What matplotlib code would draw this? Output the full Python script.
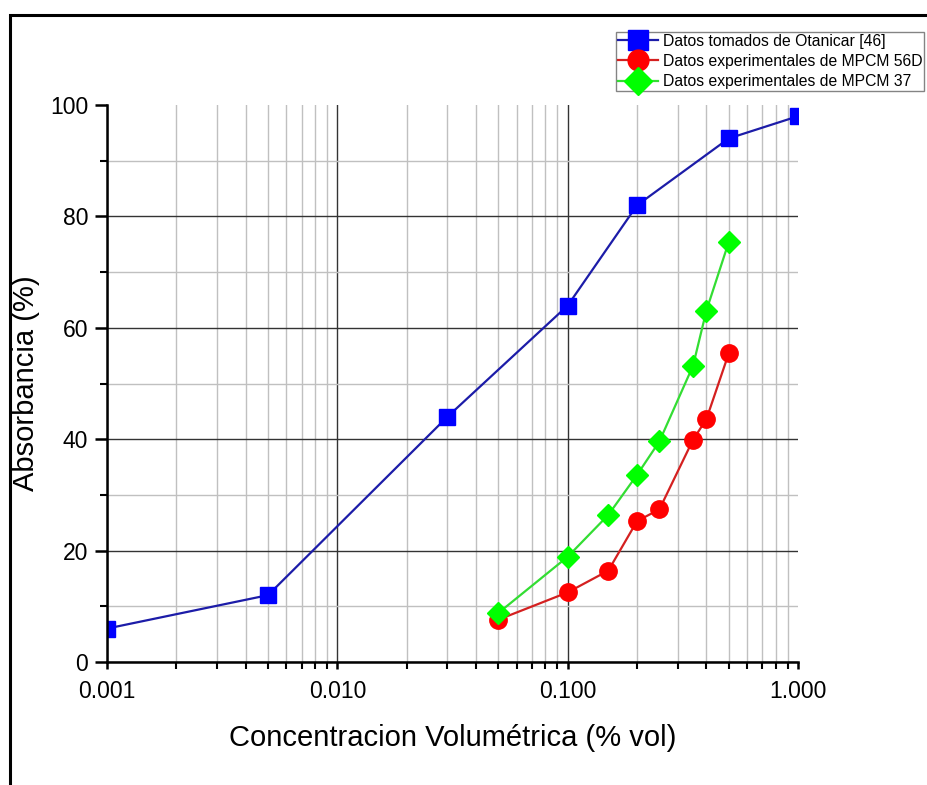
import matplotlib.pyplot as plt
from matplotlib.patches import Rectangle
from matplotlib.ticker import FixedLocator, FuncFormatter, LogLocator, NullFormatter

plt.rcParams['font.family'] = ['Liberation Sans', 'DejaVu Sans']

# Datos
otanicar_conc = [0.001, 0.005, 0.03, 0.1, 0.2, 0.5, 1.0]
otanicar_abs = [6, 12, 44, 64, 82, 94, 98]

mpcm_conc = [0.05, 0.1, 0.15, 0.2, 0.25, 0.35, 0.4, 0.5]
mpcm56d_abs = [7.6, 12.5, 16.4, 25.3, 27.4, 39.9, 43.6, 55.4]
mpcm37_abs = [8.8, 18.9, 26.4, 33.6, 39.6, 53.2, 63.1, 75.4]

labels = ['Datos tomados de Otanicar [46]',
          'Datos experimentales de MPCM 56D',
          'Datos experimentales de MPCM 37']

fig = plt.figure(figsize=(9.28, 7.85), dpi=100)
ax = fig.add_axes([0.1153, 0.1567, 0.7447, 0.7095])

# marco exterior
fig.patches.append(Rectangle((10 / 928, -0.1), 1.2, 1.1 - 15 / 785,
                             transform=fig.transFigure, fill=False,
                             edgecolor='black', linewidth=2.2, zorder=0))

ax.plot(otanicar_conc, otanicar_abs, color='#1c1ca8', lw=1.6, marker='s',
        ms=11.5, mfc='#0000ff', mec='#0000ff', label=labels[0])
ax.plot(mpcm_conc, mpcm56d_abs, color='#d42020', lw=1.6, marker='o',
        ms=12.5, mfc='#ff0000', mec='#ff0000', label=labels[1])
ax.plot(mpcm_conc, mpcm37_abs, color='#33dd33', lw=1.6, marker='D',
        ms=11.5, mfc='#00ff00', mec='#00ff00', label=labels[2])

ax.set_xscale('log')
ax.set_xlim(0.001, 1.0)
ax.set_ylim(0, 100)

ax.xaxis.set_major_locator(FixedLocator([0.001, 0.01, 0.1, 1.0]))
ax.xaxis.set_major_formatter(FuncFormatter(lambda v, p: f'{v:.3f}'))
ax.xaxis.set_minor_locator(LogLocator(base=10, subs=range(2, 10)))
ax.xaxis.set_minor_formatter(NullFormatter())
ax.yaxis.set_major_locator(FixedLocator([0, 20, 40, 60, 80, 100]))
ax.yaxis.set_minor_locator(FixedLocator([10, 30, 50, 70, 90]))

ax.grid(which='major', color='#333333', lw=1.0)
ax.grid(which='minor', color='#c0c0c0', lw=1.0)
ax.set_axisbelow(True)

# sin linea de rejilla en los bordes (100 % y 1.000)
ax.yaxis.get_gridlines()[-1].set_visible(False)
ax.xaxis.get_gridlines()[-1].set_visible(False)

for side in ['top', 'right']:
    ax.spines[side].set_visible(False)
for side in ['left', 'bottom']:
    ax.spines[side].set_linewidth(1.8)

ax.tick_params(which='major', direction='out', width=1.8,
               labelsize=16.5, colors='black')
ax.tick_params(which='minor', direction='out', width=1.5)
ax.tick_params(axis='x', which='both', length=5, pad=8)
ax.tick_params(axis='y', which='major', length=8.6, pad=5)
ax.tick_params(axis='y', which='minor', length=5)

ax.set_xlabel('Concentracion Volumétrica (% vol)', fontsize=21, labelpad=15)
ax.set_ylabel('Absorbancia (%)', fontsize=21, labelpad=7)

leg = ax.legend(loc='upper left', bbox_to_anchor=(616 / 928, 1 - 32 / 785),
                bbox_transform=fig.transFigure, fontsize=11.3, frameon=True,
                fancybox=False, edgecolor='#666666', handlelength=2.6,
                handletextpad=0.3, borderpad=0.1, labelspacing=0.34,
                borderaxespad=0, markerscale=1.2)
leg.get_frame().set_linewidth(1.0)

fig.savefig('out.png', dpi=100)
